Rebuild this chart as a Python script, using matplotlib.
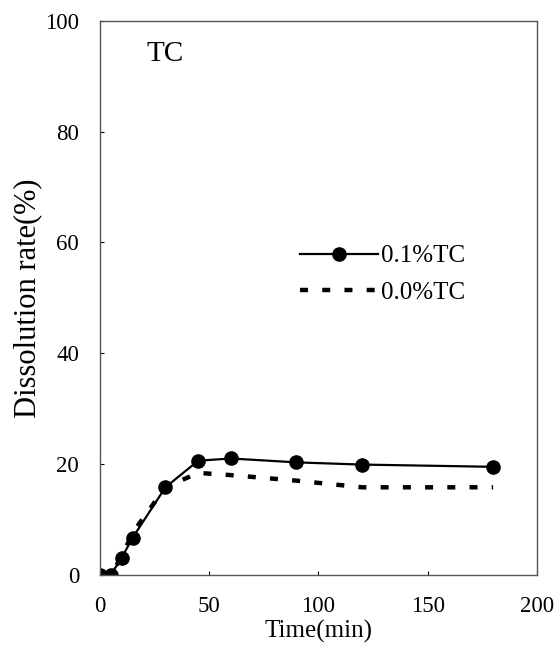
import matplotlib
matplotlib.use("Agg")
import matplotlib.pyplot as plt

# data
time_min = [0, 5, 10, 15, 30, 45, 60, 90, 120, 180]
tc_01 = [0, 0, 3.1, 6.7, 15.8, 20.6, 21.0, 20.3, 19.9, 19.5]
tc_00 = [0, 0, 3.3, 7.6, 15.8, 18.4, 18.0, 17.0, 15.8, 15.8]

x_ticks = [0, 50, 100, 150, 200]
y_ticks = [0, 20, 40, 60, 80, 100]

plt.rcParams['font.family'] = ['Liberation Serif', 'DejaVu Serif']

fig = plt.figure(figsize=(5.58, 6.51), dpi=100)
ax = fig.add_axes([0.179, 0.117, 0.783, 0.851])

ax.plot(time_min, tc_01, color='black', linestyle='-', linewidth=1.6,
        marker='o', markersize=9.5, label='0.1%TC')
ax.plot(time_min, tc_00, color='black', linewidth=3.2,
        dashes=(1.8, 3.2), label='0.0%TC')

ax.set_xlim(0, 200)
ax.set_ylim(0, 100)
ax.set_xticks(x_ticks)
ax.set_yticks(y_ticks)
ax.tick_params(direction='in', length=3, width=0.8, labelsize=16.5)
ax.tick_params(axis='x', pad=15)
ax.tick_params(axis='y', pad=15)

for s in ax.spines.values():
    s.set_color('#555555')
    s.set_linewidth(1.0)

ax.set_xlabel('Time(min)', fontsize=18, labelpad=2)
ax.set_ylabel('Dissolution rate(%)', fontsize=22, labelpad=2)

ax.text(30, 94, 'TC', fontsize=21, ha='center', va='center')

ax.legend(loc='upper left', bbox_to_anchor=(0.43, 0.618), frameon=False,
          fontsize=18, handlelength=3.1, handletextpad=0.12, labelspacing=0.55,
          borderpad=0)

fig.savefig('out.png', dpi=100)
